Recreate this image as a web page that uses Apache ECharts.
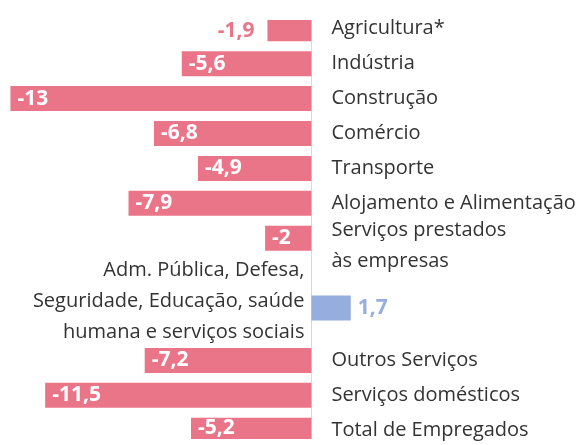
<!DOCTYPE html>
<html>
<head>
<meta charset="utf-8">
<script src="https://cdn.jsdelivr.net/npm/echarts@6/dist/echarts.min.js"></script>
<style>
    html, body { margin: 0; padding: 0; background: #fff; }
    #chart { width: 580px; height: 445px; }
</style>
</head>
<body>
<div id="chart"></div>
<script>
    // setores, de cima para baixo
    const setores = [
        'Agricultura*', 'Indústria', 'Construção', 'Comércio', 'Transporte',
        'Alojamento e Alimentação', 'Serviços prestados\nàs empresas',
        'Adm. Pública, Defesa,\nSeguridade, Educação, saúde\nhumana e serviços sociais',
        'Outros Serviços', 'Serviços domésticos', 'Total de Empregados'
    ]
    // variação em %
    const variacao = [-1.9, -5.6, -13, -6.8, -4.9, -7.9, -2, 1.7, -7.2, -11.5, -5.2]

    const xMin = -13.45, xMax = 11.6

    // cada setor ocupa uma "meia linha" do eixo (o rótulo da adm. pública precisa de mais espaço)
    const slot = [0, 2, 4, 6, 8, 10, 12, 16, 19, 21, 23]
    const nSlots = 24

    const pink = '#ea7588'
    const blue = '#95aede'

    const fmt = v => String(v).replace('.', ',')

    let yData = [], barData = []
    for (let i = 0; i < nSlots; i++) {
        yData.push({ value: ' '.repeat(i + 1) })
        barData.push('-')
    }
    setores.forEach((name, i) => {
        let item = { value: name }
        if (variacao[i] > 0) {
            item.textStyle = { align: 'right', padding: [0, 27, 0, 0] }
        }
        yData[slot[i]] = item

        let v = variacao[i]
        let label
        if (v > 0) {
            label = { position: 'right', distance: 7, color: blue }
        } else if (v > -2) {
            label = { position: 'left', distance: 13, color: pink }
        } else {
            label = { position: 'insideLeft', distance: 7, color: '#fff' }
        }
        barData[slot[i]] = {
            value: v,
            itemStyle: { color: v > 0 ? blue : pink },
            label: label
        }
    })

    // rótulos de várias linhas: linha vazia (s) para acertar a altura
    function labelFormatter(value) {
        if (value.indexOf('\n') < 0) return value
        let lines = value.split('\n').map(t => '{a|' + t + '}')
        if (lines.length === 2) {
            return '{s| }\n' + lines.join('\n')
        }
        return lines.join('\n') + '\n{t| }'
    }

    let myChart = echarts.init(document.getElementById('chart'))
    let option = {
        animation: false,
        grid: {
            left: 0,
            right: 0,
            top: 20,
            height: 419,
            outerBoundsMode: 'none',
            containLabel: false
        },
        xAxis: {
            type: 'value',
            min: xMin,
            max: xMax,
            show: false
        },
        yAxis: {
            type: 'category',
            inverse: true,
            data: yData,
            axisLine: { show: true, onZero: true, lineStyle: { color: '#d9d9d9', width: 1 } },
            axisTick: { show: false },
            splitLine: { show: false },
            axisLabel: {
                inside: true,
                interval: 0,
                margin: 20,
                color: '#333',
                fontFamily: 'Open Sans',
                fontSize: 20,
                lineHeight: 31,
                formatter: labelFormatter,
                rich: {
                    a: { fontFamily: 'Open Sans', fontSize: 20, color: '#333', lineHeight: 31 },
                    s: { fontSize: 10, lineHeight: 16 },
                    t: { fontSize: 10, lineHeight: 13 }
                }
            }
        },
        series: [
            {
                type: 'bar',
                barWidth: 25,
                data: barData,
                label: {
                    show: true,
                    fontFamily: 'Open Sans',
                    fontWeight: 'bold',
                    fontSize: 21,
                    formatter: p => fmt(p.value)
                }
            }
        ]
    }
    myChart.setOption(option)

    // rótulos das categorias partem da linha do zero
    let zeroX = myChart.convertToPixel({ gridIndex: 0 }, [0, 0])[0]
    myChart.setOption({ yAxis: { axisLabel: { margin: zeroX + 20 } } })
</script>
</body>
</html>
